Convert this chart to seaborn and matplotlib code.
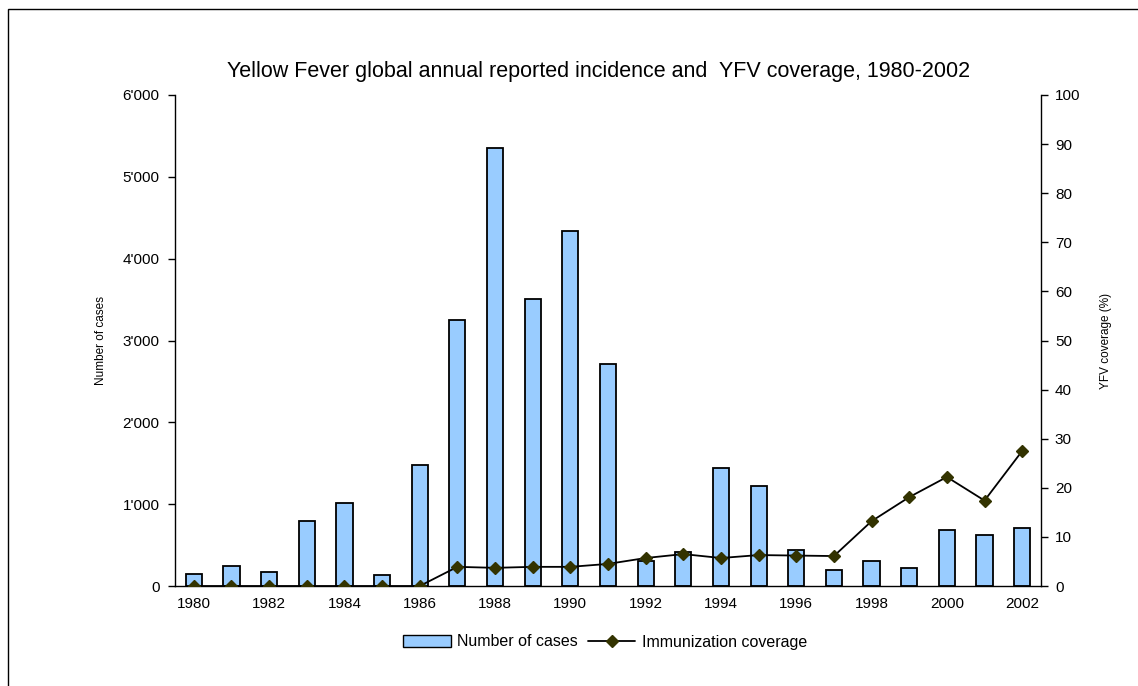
#Yellow Fever incidence vs YFV coverage, 1980-2002
import numpy as np
import pandas as pd
import seaborn as sns
import matplotlib.pyplot as plt
from matplotlib.patches import Rectangle, Patch
from matplotlib.lines import Line2D
from matplotlib.ticker import FuncFormatter

years = list(range(1980, 2003))
cases = [145, 240, 170, 790, 1010, 135, 1475, 3250, 5350, 3510, 4335, 2710,
         300, 410, 1440, 1220, 440, 195, 310, 215, 685, 625, 710]
coverage = [0, 0, 0, 0, 0, 0, 0, 3.9, 3.7, 3.9, 3.9, 4.5,
            5.7, 6.5, 5.7, 6.3, 6.2, 6.1, 13.2, 18.1, 22.2, 17.4, 27.5]
year_labels = [str(y) if y % 2 == 0 else "" for y in years]

df = pd.DataFrame({"Year": [str(y) for y in years], "Cases": cases, "Coverage": coverage})

sns.set_style("white")
plt.rcParams['font.family'] = ['Liberation Sans', 'DejaVu Sans']
plt.rcParams['text.color'] = "black"
plt.rcParams['axes.labelcolor'] = "black"
plt.rcParams['xtick.color'] = "black"
plt.rcParams['ytick.color'] = "black"

fig = plt.figure(figsize=(11.38, 6.86), dpi=100)
ax = fig.add_axes([175/1138, 1-586/686, (1041-175)/1138, (586-95)/686])

# bars
sns.barplot(data=df, x="Year", y="Cases", color="#99CCFF", edgecolor="black",
            linewidth=1.3, width=0.43, saturation=1, ax=ax)

# coverage line on right axis
ax2 = ax.twinx()
sns.pointplot(data=df, x="Year", y="Coverage", color="black", markers="D",
              linestyles="-", markersize=6, linewidth=1.3, ax=ax2)
for ln in ax2.lines:
    ln.set_markerfacecolor("#333300")
    ln.set_markeredgecolor("#333300")

ax.set_xlim(-0.5, len(years) - 0.5)
ax.set_ylim(0, 6000)
ax2.set_ylim(0, 100)
ax.set_yticks(np.arange(0, 6001, 1000))
ax2.set_yticks(np.arange(0, 101, 10))
ax.yaxis.set_major_formatter(FuncFormatter(lambda v, p: f"{int(v):,}".replace(",", "'")))

ax.set_xticks(range(len(years)))
ax.set_xticklabels(year_labels)
ax.set_xticks(np.arange(-0.5, len(years), 1), minor=True)
ax.tick_params(axis="x", which="major", length=0, pad=8, labelsize=11)
ax.tick_params(axis="x", which="minor", length=5, width=1, color="black", direction="out")
ax.tick_params(axis="y", length=5, width=1, color="black", direction="out", labelsize=11, pad=6)
ax2.tick_params(axis="y", length=5, width=1, color="black", direction="out", labelsize=11, pad=5)

for a in (ax, ax2):
    a.spines["top"].set_visible(False)
    for s in ("left", "right", "bottom"):
        a.spines[s].set_color("black")
        a.spines[s].set_linewidth(1)
ax.spines["right"].set_visible(False)
ax2.spines["left"].set_visible(False)
ax2.spines["bottom"].set_visible(False)

ax.set_xlabel("")
ax.set_ylabel("Number of cases", fontsize=8.5, labelpad=11)
ax2.set_ylabel("YFV coverage (%)", fontsize=8.5, labelpad=14)

fig.text(0.526, 1-72/686, "Yellow Fever global annual reported incidence and  YFV coverage, 1980-2002",
         ha="center", va="center", fontsize=15.5)

handles = [Patch(facecolor="#99CCFF", edgecolor="black", linewidth=1),
           Line2D([], [], color="black", lw=1.3, marker="D", markersize=6,
                  markerfacecolor="#333300", markeredgecolor="#333300")]
fig.legend(handles, ["Number of cases", "Immunization coverage"], loc="center",
           bbox_to_anchor=(605/1138, 1-642/686), ncol=2, frameon=False,
           fontsize=11.5, handlelength=3, columnspacing=0.6, handletextpad=0.4)

# outer frame of the chart area
fig.patches.append(Rectangle((8/1138, -0.1), 1.2, 1-9/686+0.1, transform=fig.transFigure,
                             fill=False, edgecolor="black", linewidth=1))

fig.savefig("out.png", dpi=100)
